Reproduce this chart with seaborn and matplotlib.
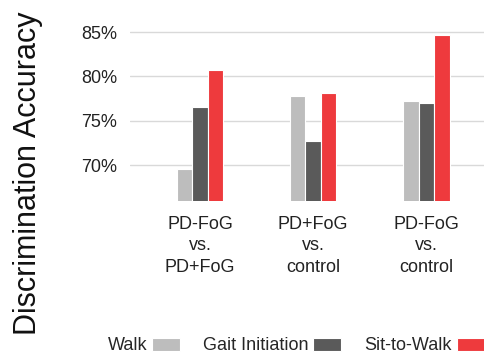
import pandas as pd
import seaborn as sns
import matplotlib.pyplot as plt
from matplotlib.ticker import FuncFormatter

comparisons = ['PD-FoG\nvs.\nPD+FoG', 'PD+FoG\nvs.\ncontrol', 'PD-FoG\nvs.\ncontrol']
tasks = ['Walk', 'Gait Initiation', 'Sit-to-Walk']
walk = [69.5, 77.8, 77.2]
gait_initiation = [76.5, 72.7, 77.0]
sit_to_walk = [80.7, 78.1, 84.7]
colors = ['#bdbdbd', '#5a5a5a', '#ee3a3d']

rows = []
for task, vals in zip(tasks, [walk, gait_initiation, sit_to_walk]):
    for comp, v in zip(comparisons, vals):
        rows.append({'comparison': comp, 'task': task, 'accuracy': v})
df = pd.DataFrame(rows)

sns.set_style('white')
plt.rcParams['font.family'] = ['Liberation Sans', 'DejaVu Sans']

fig = plt.figure(figsize=(4.84, 3.55), dpi=100)
ax = fig.add_axes([130 / 484, 1 - 200.5 / 355, 1 - 130 / 484, 181.8 / 355])

sns.barplot(data=df, x='comparison', y='accuracy', hue='task', hue_order=tasks,
            palette=colors, saturation=1, width=0.41, edgecolor='white',
            linewidth=0.8, ax=ax, zorder=3)

ax.set_ylim(66, 86.5)
ax.set_xlim(-0.62, 2.51)
ax.set_yticks([70, 75, 80, 85])
ax.yaxis.set_major_formatter(FuncFormatter(lambda x, pos: f'{int(x)}%'))
ax.grid(axis='y', color='#d9d9d9', linewidth=1, zorder=0)
ax.set_axisbelow(True)
for s in ax.spines.values():
    s.set_visible(False)
ax.tick_params(axis='both', length=0, labelsize=13, colors='#222222')
ax.tick_params(axis='y', pad=9)
ax.tick_params(axis='x', pad=11)
for lbl in ax.get_xticklabels():
    lbl.set_linespacing(1.35)
ax.set_xlabel('')
ax.set_ylabel('')

fig.text(28 / 484, 1 - 173 / 355, 'Discrimination Accuracy', rotation=90,
         ha='center', va='center', fontsize=22, color='#111111')

handles, labels = ax.get_legend_handles_labels()
ax.legend(handles, labels, markerfirst=False, ncol=3, frameon=False,
          loc='center', bbox_to_anchor=(296 / 484, 1 - 346 / 355),
          bbox_transform=fig.transFigure, fontsize=13,
          handlelength=1.55, handleheight=0.72, handletextpad=0.25,
          columnspacing=1.3, borderpad=0)

fig.savefig('out.png', dpi=100)
